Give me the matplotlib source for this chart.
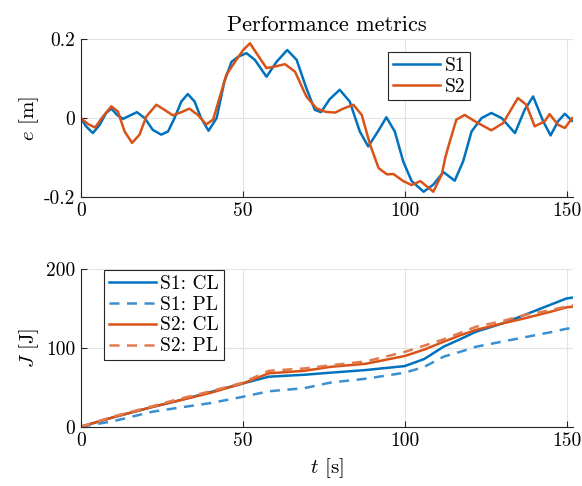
import numpy as np
import matplotlib
matplotlib.use('Agg')
import matplotlib.pyplot as plt

plt.rcParams['font.family'] = 'serif'
plt.rcParams['font.serif'] = ['cmr10']
plt.rcParams['mathtext.fontset'] = 'cm'
plt.rcParams['axes.unicode_minus'] = False

# tracking error
t_s1 = [0, 1.6, 3.7, 5.8, 7.8, 9.4, 11.2, 13, 15, 17.3, 19.7, 22.2, 24.8, 26.9, 28.9, 31, 33, 35.1,
        37.1, 39.4, 41.9, 44.3, 46.5, 48.6, 51.1, 53.7, 57.3, 60.4, 63.7, 66.6, 69.6, 72.2, 74.1,
        76.8, 79.9, 83, 86.1, 88.7, 91.7, 94.3, 96.9, 99.5, 102.1, 105.8, 108.8, 111.9, 115.4,
        118, 120.6, 123.7, 126.7, 129.9, 134, 137, 139.6, 142.7, 145, 147.3, 149.4, 151.6]
e_s1 = [0, -0.021, -0.038, -0.017, 0.013, 0.024, 0.008, -0.002, 0.006, 0.015, 0, -0.03, -0.042,
        -0.034, 0, 0.042, 0.061, 0.042, 0, -0.032, 0, 0.093, 0.143, 0.156, 0.165, 0.148, 0.105,
        0.143, 0.173, 0.148, 0.076, 0.021, 0.015, 0.048, 0.072, 0.042, -0.034, -0.072, -0.034,
        0.002, -0.034, -0.11, -0.16, -0.187, -0.169, -0.137, -0.159, -0.11, -0.034, 0, 0.013, 0,
        -0.038, 0.021, 0.055, -0.008, -0.044, -0.008, 0.011, -0.007]
t_s2 = [0, 2.2, 4.4, 6.8, 9.4, 11.4, 13.5, 15.8, 18.1, 20.2, 23.3, 25.8, 28.4, 31, 33.5, 36.1,
        38.7, 40.8, 43.4, 44.9, 48, 50.1, 52.2, 54.2, 57.3, 59.9, 63, 66.1, 69.6, 72.7, 75.5,
        78.5, 81, 84.1, 86.7, 89.3, 91.9, 94.5, 96.5, 99.5, 102.1, 104.8, 108.8, 111.4, 112.5,
        113.9, 115.9, 118.5, 121.6, 126.7, 130.3, 134.9, 137.5, 140.1, 143.2, 144.7, 147.3,
        149.4, 151.7]
e_s2 = [0, -0.015, -0.024, 0.004, 0.03, 0.017, -0.034, -0.063, -0.042, 0.004, 0.034, 0.021,
        0.007, 0.015, 0.024, 0.008, -0.016, -0.004, 0.068, 0.11, 0.148, 0.173, 0.19, 0.165, 0.127,
        0.131, 0.137, 0.118, 0.055, 0.025, 0.016, 0.014, 0.024, 0.034, 0.008, -0.068, -0.127,
        -0.143, -0.142, -0.16, -0.17, -0.16, -0.187, -0.143, -0.1, -0.059, -0.004, 0.008, -0.008,
        -0.031, -0.013, 0.051, 0.034, -0.021, -0.008, 0.01, -0.017, -0.025, 0]

# cost
t_J = [0, 10, 22, 30, 40, 50, 58, 69, 77, 88, 100, 106, 112, 117, 122, 130, 137, 145, 150, 152]
J_s1_cl = [0, 12, 25, 33, 44, 55, 63.5, 66, 68.6, 72, 77, 86, 101.7, 111, 120.7, 131, 142, 155, 163, 164]
J_s1_pl = [0, 7, 19, 24, 30, 38, 45, 49, 56, 61, 68.6, 76, 89, 95, 101.6, 108, 113.6, 120, 124.5, 125]
J_s2_cl = [0, 12, 25, 33, 43, 55, 67.8, 71, 76, 80, 89.8, 98, 108, 116, 123, 131, 137.7, 146, 151.7, 152.5]
J_s2_pl = [0, 13, 26, 35, 45, 56, 71, 74, 78, 83, 95, 103, 111, 119, 127, 134, 142, 148, 153, 154]

blue = '#0072BD'
orange = '#D95319'
blue_l = '#3a8fd0'
orange_l = '#e27a4e'

fig = plt.figure(figsize=(5.82, 4.86), dpi=100)
ax1 = fig.add_axes([0.139, 0.595, 0.846, 0.324])
ax2 = fig.add_axes([0.139, 0.122, 0.846, 0.324])

ax1.plot(t_s1, e_s1, color=blue, lw=1.8, label='S1', solid_joinstyle='round')
ax1.plot(t_s2, e_s2, color=orange, lw=1.8, label='S2', solid_joinstyle='round')
ax1.set_ylim(-0.2, 0.2)
ax1.set_yticks([-0.2, 0, 0.2])
ax1.set_yticklabels(['-0.2', '0', '0.2'])
ax1.set_ylabel('$e$ [m]', fontsize=15, labelpad=2)
ax1.set_title('Performance metrics', fontsize=16, pad=6)
leg1 = ax1.legend(loc='upper left', bbox_to_anchor=(0.624, 0.92), fontsize=14, fancybox=False,
                  edgecolor='#262626', framealpha=1, handlelength=2.4, borderpad=0.25,
                  labelspacing=0.15, handletextpad=0.25, borderaxespad=0)
leg1.get_frame().set_linewidth(0.8)

ax2.plot(t_J, J_s1_cl, color=blue, lw=1.8, label='S1: CL')
ax2.plot(t_J, J_s1_pl, color=blue_l, lw=1.8, ls=(0, (4, 3)), label='S1: PL')
ax2.plot(t_J, J_s2_cl, color=orange, lw=1.8, label='S2: CL')
ax2.plot(t_J, J_s2_pl, color=orange_l, lw=1.8, ls=(0, (4, 3)), label='S2: PL')
ax2.set_ylim(0, 200)
ax2.set_yticks([0, 100, 200])
ax2.set_ylabel('$J$ [J]', fontsize=15, labelpad=4)
ax2.set_xlabel('$t$ [s]', fontsize=15, labelpad=4)
leg2 = ax2.legend(loc='upper left', bbox_to_anchor=(0.047, 0.995), fontsize=14, fancybox=False,
                  edgecolor='#262626', framealpha=1, handlelength=2.4, borderpad=0.25,
                  labelspacing=0.15, handletextpad=0.25, borderaxespad=0)
leg2.get_frame().set_linewidth(0.8)

for ax in (ax1, ax2):
    ax.set_xlim(0, 152)
    ax.set_xticks([0, 50, 100, 150])
    ax.grid(True, color='#e3e3e3', lw=0.8)
    ax.set_axisbelow(True)
    for s in ('top', 'right'):
        ax.spines[s].set_visible(False)
    for s in ('left', 'bottom'):
        ax.spines[s].set_color('#262626')
        ax.spines[s].set_linewidth(0.8)
    ax.tick_params(direction='in', length=4, width=0.8, color='#262626', labelsize=14, pad=4)

fig.savefig('out.png', dpi=100)
